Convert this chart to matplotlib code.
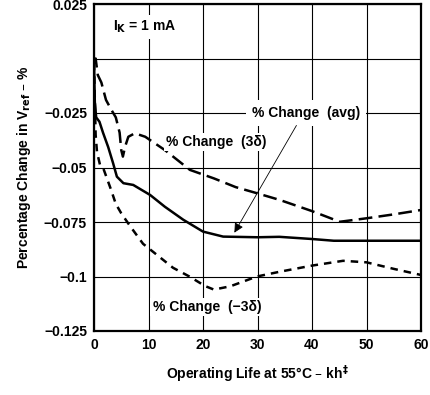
import matplotlib
matplotlib.use("Agg")
import matplotlib.pyplot as plt

plt.rcParams['font.family'] = ['Liberation Sans', 'DejaVu Sans']
plt.rcParams['font.weight'] = 'bold'
plt.rcParams['mathtext.default'] = 'bf'

# Data
avg_x = [0, 0.15, 0.4, 1.0, 1.65, 2.6, 3.5, 4.2, 5.4, 7.2, 10.3, 13, 16.4, 20, 23.7, 30, 34, 40, 44, 50, 60]
avg_y = [-0.002, -0.020, -0.027, -0.029, -0.034, -0.0406, -0.048, -0.0542, -0.0572, -0.058, -0.0626,
         -0.068, -0.074, -0.0794, -0.0817, -0.082, -0.0818, -0.0828, -0.0836, -0.0836, -0.0836]

p3_x = [0, 0.3, 0.7, 1.35, 2.2, 3.2, 4.0, 4.7, 5.0, 5.3, 5.7, 6.3, 7.5, 9.4, 13, 17.6, 22, 26, 29.9,
        34.1, 40, 45.1, 50, 55, 60]
p3_y = [-0.002, 0.0, -0.0076, -0.011, -0.019, -0.0236, -0.027, -0.034, -0.042, -0.045, -0.0405, -0.0359,
        -0.0343, -0.0359, -0.042, -0.0511, -0.055, -0.059, -0.0618, -0.0649, -0.070, -0.0749, -0.0733,
        -0.0715, -0.0695]

m3_x = [0, 0.3, 0.55, 1.1, 1.65, 3.1, 4.0, 5.0, 6.6, 9.0, 11.5, 14.5, 17.5, 20.4, 22, 25, 29.9, 34.1,
        40, 45.7, 50, 55, 60]
m3_y = [-0.002, -0.035, -0.0429, -0.0488, -0.050, -0.060, -0.0667, -0.071, -0.0768, -0.085, -0.090,
        -0.096, -0.100, -0.1044, -0.106, -0.1045, -0.100, -0.0978, -0.095, -0.0928, -0.0935, -0.0965,
        -0.0993]

x_ticks = [0, 10, 20, 30, 40, 50, 60]
y_ticks = [0.025, 0, -0.025, -0.05, -0.075, -0.1, -0.125]
y_tick_labels = ['0.025', '', '\u22120.025', '\u22120.05', '\u22120.075', '\u22120.1', '\u22120.125']

fig = plt.figure(figsize=(4.3, 3.95), dpi=100)
ax = fig.add_axes([94/430, 1-331/395, (421-94)/430, (331-4)/395])

ax.set_xlim(0, 60)
ax.set_ylim(-0.125, 0.025)
ax.set_xticks(x_ticks)
ax.set_xticklabels([str(t) for t in x_ticks])
ax.set_yticks(y_ticks)
ax.set_yticklabels(y_tick_labels)
ax.tick_params(length=0, labelsize=10, pad=5)
for lbl in ax.get_xticklabels() + ax.get_yticklabels():
    lbl.set_fontweight('bold')

ax.grid(True, color='black', linewidth=0.8)
ax.set_axisbelow(True)
for s in ax.spines.values():
    s.set_linewidth(1.6)

ax.plot(avg_x, avg_y, color='black', linewidth=1.8, solid_joinstyle='round', zorder=3)
ax.plot(p3_x, p3_y, color='black', linewidth=1.8, linestyle=(0, (5.5, 2.5)), zorder=3)
ax.plot(m3_x, m3_y, color='black', linewidth=1.8, linestyle=(0, (3, 2.4)), zorder=3)

box = dict(facecolor='white', edgecolor='none', pad=1.5)
ax.text(3.5, 0.0145, 'I$_\\mathbf{K}$ = 1 mA', fontsize=10, fontweight='bold', va='center', ha='left',
        bbox=dict(facecolor='white', edgecolor='none', pad=3), zorder=4)
ax.text(38.9, -0.025, '% Change  (avg)', fontsize=10, fontweight='bold', va='center', ha='center',
        bbox=dict(facecolor='white', edgecolor='none', pad=4), zorder=4)
ax.text(22.4, -0.0383, '% Change  (3\u03b4)', fontsize=10, fontweight='bold', va='center', ha='center',
        bbox=box, zorder=4)
ax.text(20.7, -0.114, '% Change  (\u22123\u03b4)', fontsize=10, fontweight='bold', va='center', ha='center',
        bbox=box, zorder=4)
ax.annotate('', xy=(25.5, -0.081), xytext=(37.4, -0.0296),
            arrowprops=dict(arrowstyle='-|>', color='black', lw=0.6, mutation_scale=14), zorder=5)

ax.set_xlabel('Operating Life at 55\u00b0C \u2013 kh$^\u2021$', fontsize=10, fontweight='bold', labelpad=8)
ax.set_ylabel('Percentage Change in V$_\\mathbf{ref}$ \u2013 %', fontsize=10, fontweight='bold', labelpad=8)

fig.savefig('out.png', dpi=100)
